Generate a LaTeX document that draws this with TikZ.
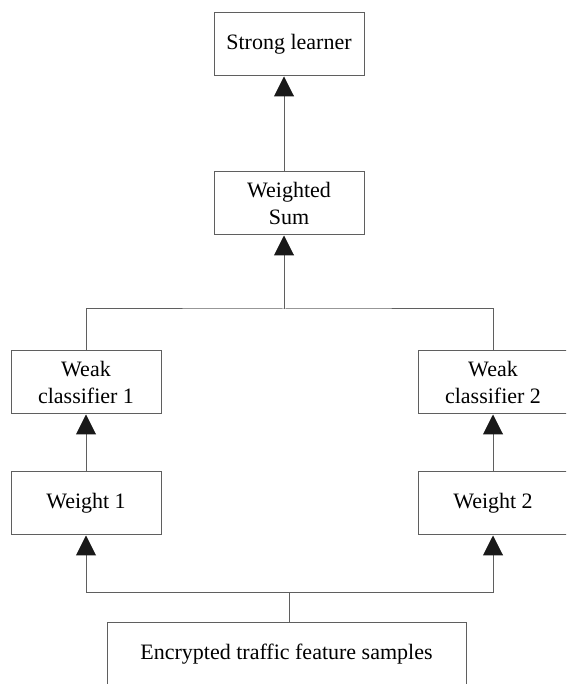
\documentclass[tikz,border=0pt]{standalone}
\usepackage{fontspec}
\setmainfont{Liberation Serif}
\usetikzlibrary{arrows.meta}

\definecolor{linegray}{RGB}{95,95,95}

\tikzset{
	box/.style = {draw = linegray, line width = 1pt, minimum width = 150pt, minimum height = 63pt,
		inner sep = 2pt, align = center, font = \fontsize{22}{27}\selectfont},
	link/.style = {draw = linegray, line width = 1pt},
	arr/.style = {link, -{Triangle[width = 20pt, length = 20pt, color = black!90]}}
}

\begin{document}
\begin{tikzpicture}[x = 1pt, y = 1pt]

			\useasboundingbox (0,0) rectangle (566,684);
			\clip (0,0) rectangle (566,684);

			\node[box] (strong) at (289, 639.5) {Strong learner};
			\node[box] (wsum) at (289, 480.5) {Weighted\\Sum};
			\node[box] (weak1) at (86, 301.5) {Weak\\classifier 1};
			\node[box] (weak2) at (493, 301.5) {Weak\\classifier 2};
			\node[box] (weight1) at (86, 180.5) {Weight 1};
			\node[box] (weight2) at (493, 180.5) {Weight 2};
			\node[box, minimum width = 359pt] (samples) at (286.5, 29.5) {Encrypted traffic feature samples};

			\coordinate (join) at (284, 375);
			\coordinate (fork) at (289, 91);

			\draw[arr] (join |- wsum.north) -- (join |- strong.south);
			\draw[link] (weak1.north) |- (join) -| (weak2.north);
			\draw[arr] (join) -- (join |- wsum.south);

			\foreach \i in {1, 2}
			{
				\draw[arr] (weight\i.north) -- (weak\i.south);
				\draw[arr] (fork) -| (weight\i.south);
			}
			\draw[link] (fork |- samples.north) -- (fork);

		\end{tikzpicture}
\end{document}
